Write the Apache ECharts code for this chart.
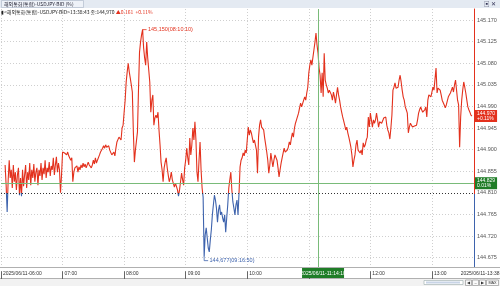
<!DOCTYPE html>
<html><head><meta charset="utf-8">
<script src="https://cdn.jsdelivr.net/npm/echarts@6/dist/echarts.min.js"></script>
<style>html,body{margin:0;padding:0;background:#fff;overflow:hidden}#c{width:500px;height:286px}</style>
</head><body><div id="c"></div>
<script>
// ---- data ----
const firstTime = '06:04';            // time of the first price (one price per minute)
const prices = [
144.868,144.826,144.770,144.837,144.878,144.841,144.858,144.820,144.868,144.833,
144.853,144.816,144.847,144.862,144.805,144.841,144.803,144.858,144.824,144.847,
144.868,144.820,144.853,144.837,144.872,144.826,144.858,144.841,144.870,144.833,
144.853,144.862,144.826,144.858,144.845,144.872,144.837,144.862,144.849,144.878,
144.841,144.862,144.853,144.874,144.845,144.866,144.858,144.883,144.847,144.868,
144.885,144.853,144.872,144.858,144.810,144.847,144.895,144.899,144.893,144.897,
144.889,144.895,144.887,144.891,144.878,144.883,144.833,144.853,144.862,144.858,
144.866,144.853,144.864,144.858,144.868,144.862,144.872,144.864,144.870,144.862,
144.866,144.874,144.868,144.872,144.862,144.868,144.878,144.870,144.883,144.872,
144.878,144.874,144.889,144.895,144.899,144.903,144.908,144.903,144.910,144.905,
144.901,144.908,144.899,144.895,144.889,144.885,144.895,144.887,144.903,144.916,
144.920,144.926,144.930,144.920,144.945,144.951,144.978,145.003,145.041,145.062,
145.080,145.062,145.049,145.035,145.020,144.937,144.874,144.899,144.903,144.937,
145.024,145.103,145.124,145.139,145.150,145.112,145.091,145.076,145.124,145.091,
145.066,145.041,144.978,145.003,145.014,144.951,144.966,144.972,144.966,144.978,
144.941,144.910,144.874,144.858,144.833,144.862,144.874,144.883,144.862,144.847,
144.833,144.841,144.853,144.837,144.841,144.822,144.830,144.826,144.816,144.803,
144.816,144.833,144.851,144.837,144.826,144.862,144.878,144.903,144.883,144.868,
144.924,144.889,144.910,144.945,144.920,144.958,144.920,144.853,144.833,144.878,
144.916,144.858,144.820,144.801,144.677,144.722,144.737,144.716,144.695,144.687,
144.712,144.733,144.764,144.785,144.805,144.795,144.778,144.749,144.774,144.785,
144.764,144.770,144.758,144.749,144.764,144.728,144.758,144.785,144.820,144.837,
144.853,144.816,144.791,144.778,144.764,144.785,144.795,144.764,144.810,144.864,
144.878,144.883,144.893,144.887,144.899,144.893,144.920,144.947,144.930,144.941,
144.935,144.924,144.914,144.920,144.924,144.899,144.851,144.926,144.951,144.962,
144.947,144.951,144.941,144.924,144.910,144.895,144.878,144.851,144.868,144.893,
144.878,144.864,144.878,144.889,144.893,144.878,144.862,144.843,144.858,144.872,
144.883,144.893,144.903,144.895,144.893,144.899,144.905,144.916,144.910,144.924,
144.935,144.926,144.945,144.955,144.962,144.966,144.976,144.987,144.997,144.989,
144.993,145.003,145.010,145.003,145.018,145.030,145.060,145.076,145.087,145.076,
145.072,145.108,145.124,145.143,145.118,145.101,145.070,145.055,145.018,145.060,
145.010,145.101,145.045,145.035,145.028,145.018,145.024,145.028,145.014,145.003,
145.020,145.010,144.997,145.014,145.030,145.014,145.003,144.989,144.978,144.968,
144.966,144.951,144.941,144.947,144.935,144.926,144.916,144.905,144.889,144.864,
144.878,144.889,144.910,144.920,144.899,144.903,144.893,144.899,144.889,144.914,
144.905,144.910,144.920,144.926,144.968,144.947,144.976,144.962,144.947,144.962,
144.955,144.962,144.976,144.962,144.947,144.958,144.962,144.955,144.960,144.966,
144.962,144.968,144.951,144.941,144.935,144.922,144.945,144.972,145.024,145.030,
145.039,145.028,145.024,145.030,145.045,145.055,145.041,145.024,145.010,145.003,
144.989,144.983,144.976,144.935,144.947,144.955,144.951,144.947,144.945,144.949,
144.947,144.951,144.962,144.976,144.983,144.989,144.983,144.978,144.976,144.983,
144.989,144.968,145.003,145.014,145.018,145.010,145.014,145.030,145.024,145.020,
145.070,145.018,145.028,145.024,145.024,145.014,145.003,145.003,144.993,144.987,
144.993,144.989,145.010,145.014,145.018,145.024,145.030,145.020,145.035,145.045,
145.024,145.003,144.993,144.905,144.968,145.003,145.024,145.041,145.030,145.018,
145.003,144.989,144.983,144.978,144.972,144.970
];
const xTickLabels = ['2025/06/11-06:00','07:00','08:00','09:00','10:00','11:00','12:00','13:00'];
const axisStart = '06:00';
const axisEnd = '13:41';
const yMin = 144.630, yMax = 145.193, yStep = 0.045;
const prevClose = 144.809;
const lastPrice = 144.970;
const lastTag = ['144.970', '+0.11%'];
const crossPrice = 144.829;
const crossTag = ['144.829', '0.01%'];
const crossTime = '11:09';
const crossTimeText = '2025/06/11-11:14:10';
const lastTimeText = '2025/06/11-13:38';
const highText = '145,150(08:10:10)';
const lowText = '144,677(09:16:50)';
const titleText = '해외통화(통합)-USDJPY-BID (%)';
const infoText = '<해외통화(통합)-USDJPY-BID>13:38:43 종:144,970 ';
const infoChange = '▲0.161  +0.11%';

// ---- build ----
const toMin = s => { const p = s.split(':').map(Number); return p[0] * 60 + p[1]; };
const start = toMin(firstTime);
const xMin = toMin(axisStart), xMax = toMin(axisEnd);
const seriesData = prices.map((p, i) => [start + i, p]);
const hiIdx = prices.indexOf(Math.max(...prices));
const loIdx = prices.indexOf(Math.min(...prices));

const RED = '#e3311d', BLUE = '#3e63ad', GREEN = '#79bb79', DKGREEN = '#1f7d27';
const FONT = '"Liberation Sans", "Noto Sans CJK KR", sans-serif';
const KFONT = '"Noto Sans CJK KR", "Liberation Sans", sans-serif';
const frac = (yMax - prevClose) / (yMax - yMin);

const chart = echarts.init(document.getElementById('c'), null, {renderer: 'canvas', width: 500, height: 286});

const option = {
  animation: false,
  textStyle: {fontFamily: FONT},
  grid: {left: -1, right: 26, top: 9, bottom: 6.8},
  visualMap: {show: false, type: 'piecewise', dimension: 1, seriesIndex: 0,
    pieces: [{gte: prevClose, lte: yMax + 1, color: RED}, {gte: yMin - 1, lt: prevClose, color: BLUE}]},
  xAxis: [
    {type: 'value', position: 'bottom', min: xMin, max: xMax, interval: 60, z: 0,
      axisLine: {show: false}, axisTick: {show: false}, axisLabel: {show: false},
      splitLine: {show: true, lineStyle: {color: '#cfcfcf', type: [1, 2], width: 1}}},
    {type: 'value', position: 'bottom', min: xMin, max: xMax, interval: 60, z: 10,
      axisLine: {show: false},
      axisTick: {show: true, inside: true, length: 8, lineStyle: {color: '#666'}},
      axisLabel: {inside: true, margin: 3, fontSize: 5, color: '#333', align: 'left', padding: [0, 0, 0, 2],
        showMaxLabel: false, fontFamily: FONT,
        formatter: v => xTickLabels[Math.round((v - xMin) / 60)] || ''},
      splitLine: {show: false}}
  ],
  yAxis: {type: 'value', position: 'right', min: yMin, max: yMax, interval: yStep,
    axisLine: {show: true, lineStyle: {width: 1, color: new echarts.graphic.LinearGradient(0, 0, 0, 1, [
      {offset: 0, color: RED}, {offset: frac, color: RED}, {offset: frac, color: BLUE}, {offset: 1, color: BLUE}])}},
    axisTick: {show: false},
    axisLabel: {fontSize: 5.5, color: '#555', margin: 3, showMinLabel: false, showMaxLabel: false, fontFamily: FONT,
      formatter: v => v.toFixed(3)},
    splitLine: {show: true, showMinLine: false, showMaxLine: false, lineStyle: {color: '#cfcfcf', type: [1, 2], width: 1}}
  },
  series: [{
    type: 'line', data: seriesData, xAxisIndex: 0, showSymbol: false, symbol: 'none', clip: false,
    lineStyle: {width: 1.1}, z: 2,
    markLine: {
      silent: true, symbol: ['none', 'none'], animation: false,
      data: [
        {yAxis: prevClose, lineStyle: {color: '#333', type: [1, 2], width: 1}, label: {show: false}},
        {yAxis: crossPrice, lineStyle: {color: GREEN, type: 'solid', width: 1},
          label: {show: true, position: 'end', distance: 1, formatter: crossTag.join('\n'), color: '#fff',
            backgroundColor: DKGREEN, fontSize: 5, lineHeight: 5.5, padding: [1, 2, 0, 2], fontFamily: FONT}},
        {yAxis: lastPrice, lineStyle: {color: 'rgba(0,0,0,0)', width: 0.1},
          label: {show: true, position: 'end', distance: 1, formatter: lastTag.join('\n'), color: '#fff',
            backgroundColor: RED, fontSize: 5, lineHeight: 5.5, padding: [1, 2, 0, 2], fontFamily: FONT}},
        {xAxis: toMin(crossTime), lineStyle: {color: GREEN, type: 'solid', width: 1}, label: {show: false}}
      ]
    },
    markPoint: {
      silent: true, animation: false,
      data: [
        {coord: seriesData[hiIdx], symbol: 'path://M0,6 L0,0 L6,0', symbolSize: [4, 4], symbolOffset: [2, 2],
          itemStyle: {color: 'rgba(0,0,0,0)', borderColor: RED, borderWidth: 0.8},
          label: {show: true, position: 'right', distance: 1, offset: [0, -2], formatter: highText, color: RED, fontSize: 5.5, fontFamily: FONT}},
        {coord: seriesData[loIdx], symbol: 'path://M0,0 L0,6 L6,6', symbolSize: [4, 4], symbolOffset: [2, 2],
          itemStyle: {color: 'rgba(0,0,0,0)', borderColor: BLUE, borderWidth: 0.8},
          label: {show: true, position: 'right', distance: 1, offset: [0, 2], formatter: lowText, color: BLUE, fontSize: 5.5, fontFamily: FONT}}
      ]
    }
  }]
};
chart.setOption(option);

const crossX = chart.convertToPixel({xAxisIndex: 0}, toMin(crossTime));
chart.setOption({graphic: [
  // header
  {type: 'rect', z: 50, shape: {x: 0, y: 0, width: 500, height: 8}, style: {fill: '#e4eaf2'}},
  {type: 'rect', z: 51, shape: {x: 1.5, y: 0.5, width: 82, height: 7}, style: {fill: '#eef2f8', stroke: '#aab6c6', lineWidth: 0.6}},
  {type: 'text', z: 52, x: 4, y: 4.2, style: {text: titleText, fontSize: 5, fill: '#223', verticalAlign: 'middle', fontFamily: KFONT}},
  {type: 'text', z: 52, x: 484, y: 4.2, style: {text: '▣ ✕', fontSize: 5.5, fill: '#335', verticalAlign: 'middle', fontFamily: FONT}},
  {type: 'text', z: 52, x: 1, y: 12.5, style: {
    text: '{b|▮}{t|' + infoText + '}{r|' + infoChange + '}', verticalAlign: 'middle',
    rich: {b: {fontSize: 5, fill: '#222'}, t: {fontSize: 5, fill: '#222', fontFamily: KFONT}, r: {fontSize: 5, fill: RED, fontFamily: KFONT}}}},
  // x-axis band
  {type: 'rect', z: 5, shape: {x: -1, y: 267.5, width: 502, height: 11}, style: {fill: '#fff', stroke: '#b0b0b0', lineWidth: 1}},
  {type: 'rect', z: 60, shape: {x: crossX - 16, y: 268, width: 42, height: 10}, style: {fill: DKGREEN}},
  {type: 'text', z: 61, x: crossX + 5, y: 273.3, style: {text: crossTimeText, fontSize: 5, fill: '#fff', align: 'center', verticalAlign: 'middle', fontFamily: FONT}},
  {type: 'text', z: 61, x: 499.5, y: 273.3, style: {text: lastTimeText, fontSize: 5, fill: '#333', align: 'right', verticalAlign: 'middle', fontFamily: FONT}},
  // scrollbar
  {type: 'rect', z: 50, shape: {x: 0, y: 279, width: 500, height: 7}, style: {fill: '#f2f2f2'}},
  {type: 'rect', z: 51, shape: {x: 424, y: 280.5, width: 39, height: 4}, style: {fill: '#fff', stroke: '#9aa', lineWidth: 0.6}},
  {type: 'rect', z: 52, shape: {x: 426, y: 281.5, width: 34, height: 2}, style: {fill: '#c8d4e6'}},
  {type: 'rect', z: 51, shape: {x: 465.5, y: 280, width: 6, height: 5.5}, style: {fill: '#fafafa', stroke: '#888', lineWidth: 0.6}},
  {type: 'rect', z: 51, shape: {x: 472.5, y: 280, width: 6, height: 5.5}, style: {fill: '#fafafa', stroke: '#888', lineWidth: 0.6}},
  {type: 'rect', z: 51, shape: {x: 479.5, y: 280, width: 6, height: 5.5}, style: {fill: '#fafafa', stroke: '#888', lineWidth: 0.6}},
  {type: 'rect', z: 51, shape: {x: 486.5, y: 280, width: 12, height: 5.5}, style: {fill: '#fafafa', stroke: '#888', lineWidth: 0.6}},
  {type: 'text', z: 52, x: 468.5, y: 282.8, style: {text: '◀', fontSize: 3.5, fill: '#333', align: 'center', verticalAlign: 'middle'}},
  {type: 'text', z: 52, x: 475.5, y: 282.8, style: {text: '–', fontSize: 4, fill: '#333', align: 'center', verticalAlign: 'middle'}},
  {type: 'text', z: 52, x: 482.5, y: 282.8, style: {text: '▶', fontSize: 3.5, fill: '#333', align: 'center', verticalAlign: 'middle'}},
  {type: 'text', z: 52, x: 492.5, y: 282.8, style: {text: 'MAX', fontSize: 3.8, fill: '#333', align: 'center', verticalAlign: 'middle', fontFamily: FONT}}
]});
</script>
</body></html>
